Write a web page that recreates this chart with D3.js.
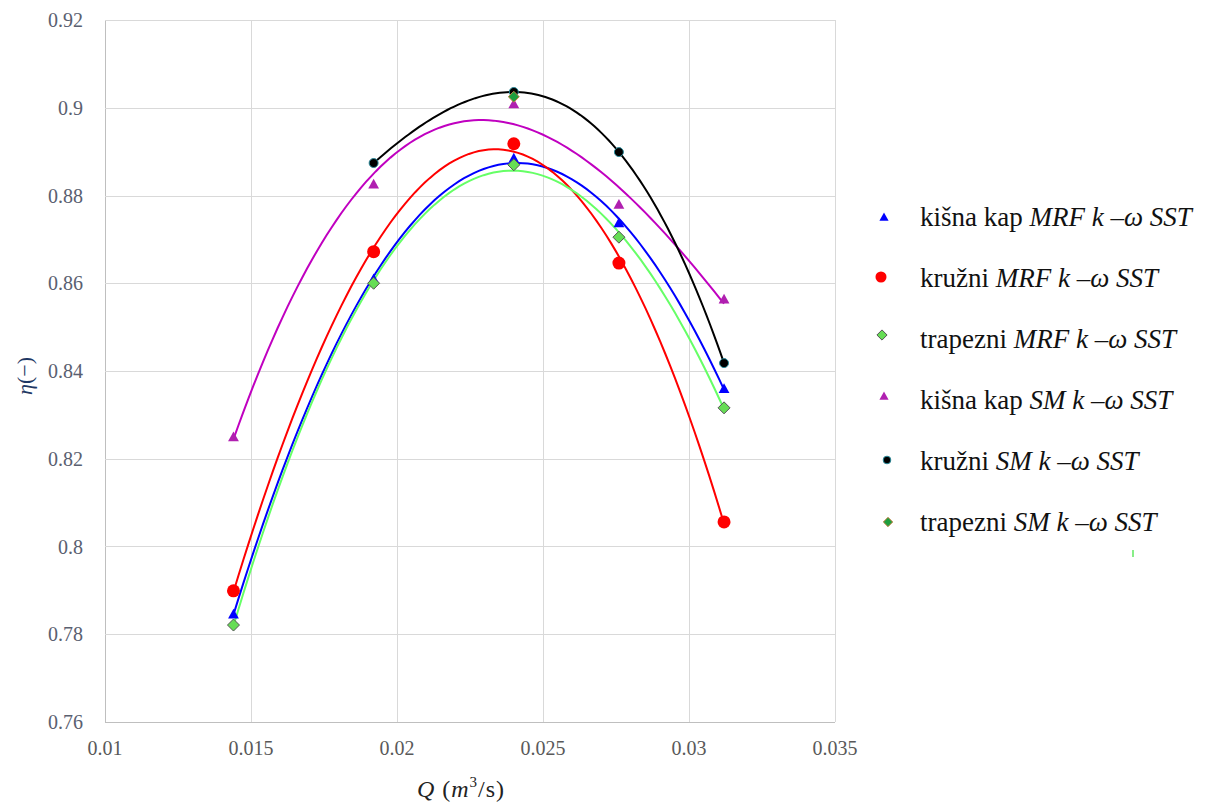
<!DOCTYPE html>
<html>
<head>
<meta charset="utf-8">
<script src="https://cdn.jsdelivr.net/npm/d3@7"></script>
<style>
  body { margin: 0; background: #fff; }
  svg { display: block; }
  text { font-family: "Times New Roman", "Liberation Serif", Times, "DejaVu Serif", serif; }
</style>
</head>
<body>
<svg id="chart" width="1210" height="802"></svg>
<script>
// data
var qValues = [0.0144, 0.0192, 0.024, 0.0276, 0.0312];
var kisnaMRF    = [0.7846, 0.8610, 0.8885, 0.8738, 0.8360];
var kruzniMRF   = [0.7899, 0.8672, 0.8918, 0.8646, 0.8056];
var trapezniMRF = [0.7821, 0.8600, 0.8870, 0.8705, 0.8316];
var kisnaSM     = [0.8250, 0.8826, 0.9009, 0.8780, 0.8564];
var kruzniSM    = [null, 0.8874, 0.9036, 0.8899, 0.8418];
var trapezniSM  = [null, null, 0.9025, null, null];

var xTicks = [0.01, 0.015, 0.02, 0.025, 0.03, 0.035];
var yTicks = [0.76, 0.78, 0.8, 0.82, 0.84, 0.86, 0.88, 0.9, 0.92];

var series = [
  {name: "kišna kap ", model: "MRF", vals: kisnaMRF, line: "#0000ff", shape: "tri", fill: "#0000ff", stroke: "none", size: 9, trend: true},
  {name: "kružni ", model: "MRF", vals: kruzniMRF, line: "#ff0000", shape: "circle", fill: "#ff0000", stroke: "none", size: 6.5, trend: true},
  {name: "trapezni ", model: "MRF", vals: trapezniMRF, line: "#66ff66", shape: "diamond", fill: "#66dd55", stroke: "#555", size: 6, trend: true},
  {name: "kišna kap ", model: "SM", vals: kisnaSM, line: "#c000c0", shape: "tri", fill: "#b020b0", stroke: "none", size: 9, trend: true},
  {name: "kružni ", model: "SM", vals: kruzniSM, line: "#000000", shape: "circle", fill: "#000000", stroke: "#2a8a9a", size: 4.5, trend: true},
  {name: "trapezni ", model: "SM", vals: trapezniSM, line: "#1e9e3e", shape: "diamond", fill: "#1e9e3e", stroke: "#c08040", size: 5.5, trend: false}
];

var svg = d3.select("#chart");
var x = d3.scaleLinear().domain([0.01, 0.035]).range([105, 835]);
var y = d3.scaleLinear().domain([0.76, 0.92]).range([722, 20]);

// grid
svg.append("g").selectAll("line").data(xTicks).enter().append("line")
  .attr("x1", function(d) { return Math.round(x(d)) + 0.5; })
  .attr("x2", function(d) { return Math.round(x(d)) + 0.5; })
  .attr("y1", y(0.92)).attr("y2", y(0.76))
  .attr("stroke", function(d, i) { return i == 0 ? "#bfbfbf" : "#d9d9d9"; });
svg.append("g").selectAll("line").data(yTicks).enter().append("line")
  .attr("x1", x(0.01)).attr("x2", x(0.035))
  .attr("y1", function(d) { return Math.round(y(d)) + 0.5; })
  .attr("y2", function(d) { return Math.round(y(d)) + 0.5; })
  .attr("stroke", function(d, i) { return i == 0 ? "#bfbfbf" : "#d9d9d9"; });

// tick labels
svg.append("g").selectAll("text").data(yTicks).enter().append("text")
  .attr("x", 83).attr("y", function(d) { return y(d) + 7; })
  .attr("text-anchor", "end")
  .attr("font-size", 20).attr("fill", "#5a6070")
  .text(function(d) { return d3.format("")(d); });

svg.append("g").selectAll("text").data(xTicks).enter().append("text")
  .attr("x", function(d) { return x(d); }).attr("y", 755)
  .attr("text-anchor", "middle")
  .attr("font-size", 20).attr("fill", "#595959")
  .text(function(d) { return d3.format("")(d); });

// axis titles
var xt = svg.append("text").attr("x", 461).attr("y", 797).attr("text-anchor", "middle")
  .attr("font-size", 24).attr("letter-spacing", 1).attr("fill", "#222");
xt.append("tspan").attr("font-style", "italic").text("Q");
xt.append("tspan").text(" (");
xt.append("tspan").attr("font-style", "italic").text("m");
xt.append("tspan").attr("font-size", 15).attr("dy", -10).text("3");
xt.append("tspan").attr("dy", 10).text("/s)");

var yt = svg.append("text").attr("transform", "translate(32,376) rotate(-90)")
  .attr("text-anchor", "middle")
  .attr("font-size", 22).attr("fill", "#1f3864");
yt.append("tspan").attr("font-style", "italic").text("η");
yt.append("tspan").text("(−)");

// cubic least squares trendline
function polyFit(xs, ys, order) {
  var n = order + 1;
  var A = [], b = [];
  for (var i = 0; i < n; i++) {
    A.push([]);
    for (var j = 0; j < n; j++) {
      A[i].push(d3.sum(xs, function(v) { return Math.pow(v, i + j); }));
    }
    b.push(d3.sum(xs, function(v, k) { return ys[k] * Math.pow(v, i); }));
  }
  for (var c = 0; c < n; c++) {
    var p = c;
    for (var r = c + 1; r < n; r++) if (Math.abs(A[r][c]) > Math.abs(A[p][c])) p = r;
    var t = A[c]; A[c] = A[p]; A[p] = t;
    var tb = b[c]; b[c] = b[p]; b[p] = tb;
    for (var r2 = c + 1; r2 < n; r2++) {
      var f = A[r2][c] / A[c][c];
      for (var k = c; k < n; k++) A[r2][k] -= f * A[c][k];
      b[r2] -= f * b[c];
    }
  }
  var coef = new Array(n);
  for (var i2 = n - 1; i2 >= 0; i2--) {
    var s = b[i2];
    for (var k2 = i2 + 1; k2 < n; k2++) s -= A[i2][k2] * coef[k2];
    coef[i2] = s / A[i2][i2];
  }
  return function(v) { return d3.sum(coef, function(cf, i) { return cf * Math.pow(v, i); }); };
}

var line = d3.line().x(function(d) { return x(d[0]); }).y(function(d) { return y(d[1]); });

series.forEach(function(s) {
  var pts = [];
  qValues.forEach(function(q, i) { if (s.vals[i] != null) pts.push([q, s.vals[i]]); });
  s.pts = pts;
  if (!s.trend) return;
  // center x for numeric stability
  var xm = d3.mean(pts, function(d) { return d[0]; });
  var fit = polyFit(pts.map(function(d) { return (d[0] - xm) * 100; }), pts.map(function(d) { return d[1]; }), 3);
  var x0 = pts[0][0], x1 = pts[pts.length - 1][0];
  var curve = d3.range(0, 101).map(function(i) {
    var q = x0 + (x1 - x0) * i / 100;
    return [q, fit((q - xm) * 100)];
  });
  svg.append("path").attr("d", line(curve)).attr("fill", "none")
    .attr("stroke", s.line).attr("stroke-width", 2);
});

function marker(g, s, cx, cy, k) {
  var m, sz = s.size * (k || 1);
  if (s.shape == "circle") {
    m = g.append("circle").attr("cx", cx).attr("cy", cy).attr("r", sz);
  } else if (s.shape == "tri") {
    m = g.append("path").attr("d", "M" + cx + "," + (cy - sz * 0.6) + "L" + (cx + sz * 0.6) + "," + (cy + sz * 0.5) + "L" + (cx - sz * 0.6) + "," + (cy + sz * 0.5) + "Z");
  } else {
    m = g.append("path").attr("d", "M" + cx + "," + (cy - sz) + "L" + (cx + sz) + "," + cy + "L" + cx + "," + (cy + sz) + "L" + (cx - sz) + "," + cy + "Z");
  }
  m.attr("fill", s.fill).attr("stroke", s.stroke).attr("stroke-width", 1);
}

series.forEach(function(s) {
  var g = svg.append("g");
  s.pts.forEach(function(d) { marker(g, s, x(d[0]), y(d[1])); });
});

// legend
var legY = [217, 277, 335, 396, 460, 522];
var legX = [884, 881, 882, 884, 887, 888];
series.forEach(function(s, i) {
  var g = svg.append("g");
  marker(g, s, legX[i], legY[i], 0.85);
  var t = g.append("text").attr("x", 920).attr("y", 226 + i * 61)
    .attr("font-size", 27).attr("fill", "#111");
  t.append("tspan").text(s.name);
  t.append("tspan").attr("font-style", "italic").text(s.model + " k –ω SST");
});
svg.append("rect").attr("x", 1132).attr("y", 550).attr("width", 2).attr("height", 7).attr("fill", "#88ee88");
</script>
</body>
</html>
